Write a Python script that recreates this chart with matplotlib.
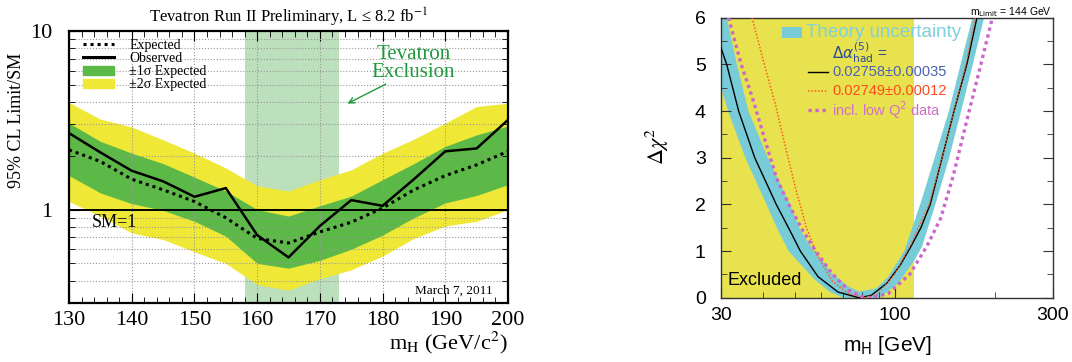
import matplotlib
matplotlib.use("Agg")
import matplotlib.pyplot as plt
from matplotlib.lines import Line2D
from matplotlib.patches import Patch, Rectangle
from matplotlib.ticker import FixedLocator, NullFormatter, MultipleLocator

# ---- left panel: Tevatron limit ----
mass = [130, 135, 140, 145, 150, 155, 160, 165, 170, 175, 180, 185, 190, 195, 200]
observed = [2.68, 2.09, 1.65, 1.44, 1.18, 1.32, 0.72, 0.54, 0.81, 1.13, 1.05, 1.48, 2.12, 2.20, 3.18]
expected = [2.16, 1.86, 1.48, 1.29, 1.11, 0.90, 0.69, 0.65, 0.75, 0.85, 1.02, 1.29, 1.55, 1.78, 2.12]
sig1_hi = [3.05, 2.41, 2.07, 1.81, 1.52, 1.27, 1.00, 0.92, 1.05, 1.19, 1.47, 1.81, 2.26, 2.62, 2.94]
sig1_lo = [1.55, 1.24, 1.08, 0.99, 0.86, 0.71, 0.50, 0.47, 0.52, 0.60, 0.72, 0.90, 1.09, 1.20, 1.38]
sig2_hi = [3.98, 3.21, 2.90, 2.46, 2.07, 1.71, 1.36, 1.27, 1.47, 1.67, 2.07, 2.48, 3.05, 3.78, 3.94]
sig2_lo = [1.11, 0.92, 0.74, 0.68, 0.58, 0.50, 0.38, 0.354, 0.41, 0.46, 0.55, 0.69, 0.81, 0.86, 1.00]
excl_range = (158, 173)

# ---- right panel: blue band ----
band_outer_m = [30, 31.5, 35.5, 41.1, 44.5, 47.9, 57.6, 64, 70, 90, 102.5, 115, 121, 132.7, 146, 158.6, 172, 186, 191]
band_outer_d = [4.5, 4.0, 3.0, 2.0, 1.45, 1.0, 0.38, 0.12, 0.0, 0.0, 0.31, 0.81, 1.1, 2.0, 3.0, 4.0, 5.0, 6.0, 6.5]
band_inner_m = [30, 31.2, 33.5, 36.3, 41.5, 48.4, 52, 57.1, 61.6, 64, 72.6, 78, 88, 95.7, 106.9, 119.4, 132, 145.7, 158, 171.5, 174]
band_inner_d = [6.5, 6.0, 5.0, 4.0, 3.0, 2.0, 1.45, 1.0, 0.74, 0.55, 0.24, 0.13, 0.2, 0.45, 1.0, 2.0, 3.0, 4.0, 5.0, 6.0, 6.5]
black_m = [30, 31.2, 33.9, 37.9, 44.0, 48.3, 52.0, 58.8, 67.6, 78.0, 85.0, 94.7, 104, 112, 120, 128, 139, 151, 165, 177]
black_d = [5.35, 5.0, 4.0, 3.0, 2.0, 1.45, 1.0, 0.45, 0.12, 0.0, 0.05, 0.31, 0.7, 1.1, 1.5, 2.0, 3.0, 4.0, 5.0, 6.0]
orange_m = [37.2, 40.5, 43.9, 47.0, 50.5, 54.0, 58.0, 65.0, 72.0, 81.0, 88.0, 100, 112, 127, 139, 151, 164, 175]
orange_d = [6.0, 5.0, 4.1, 3.2, 2.3, 1.55, 0.95, 0.35, 0.1, 0.0, 0.05, 0.5, 1.15, 2.0, 3.0, 4.0, 5.0, 6.0]
magenta_m = [31.6, 34.5, 37.5, 41, 44.1, 48, 52.8, 57.6, 64.7, 72.6, 79.8, 85, 95.7, 111, 125, 137.6, 150, 165, 180, 197]
magenta_d = [6.0, 5.0, 4.23, 3.3, 2.56, 2.0, 1.45, 1.02, 0.52, 0.16, 0.02, 0.0, 0.09, 0.5, 1.1, 1.7, 2.6, 3.8, 4.87, 6.0]
lep_limit = 114.4

SERIF = "Liberation Serif"
SANS = "Liberation Sans"
GREEN = "#5cb947"
YELLOW = "#f0e836"

fig = plt.figure(figsize=(10.72, 3.62), dpi=100)

# ================= left =================
ax = fig.add_axes([0.0644, 0.163, 0.4095, 0.7514])
ax.axvspan(*excl_range, color="#bcdfbc", zorder=0, lw=0)
ax.fill_between(mass, sig2_lo, sig2_hi, color=YELLOW, lw=0, zorder=1)
ax.fill_between(mass, sig1_lo, sig1_hi, color=GREEN, lw=0, zorder=1.1)
ax.plot(mass, expected, color="black", lw=2.2, ls=(0, (1, 1.3)), zorder=3)
ax.plot(mass, observed, color="black", lw=1.8, zorder=3)
ax.axhline(1, color="black", lw=1.4, zorder=3)

ax.set_yscale("log")
ax.set_xlim(130, 200)
ax.set_ylim(0.3, 10)
ax.xaxis.set_major_locator(MultipleLocator(10))
ax.xaxis.set_minor_locator(MultipleLocator(2))
ax.yaxis.set_major_locator(FixedLocator([1, 10]))
ax.yaxis.set_minor_locator(FixedLocator([0.3, 0.4, 0.5, 0.6, 0.7, 0.8, 0.9, 2, 3, 4, 5, 6, 7, 8, 9]))
ax.yaxis.set_minor_formatter(NullFormatter())
ax.set_yticklabels(["1", "10"])
ax.grid(True, which="major", axis="x", ls=":", color="#999999", lw=0.8)
ax.grid(True, which="minor", axis="y", ls=":", color="#999999", lw=0.8)
ax.tick_params(which="both", direction="in", top=True, right=True, labelsize=16)
ax.tick_params(which="major", length=7)
ax.tick_params(which="minor", length=4)
ax.tick_params(axis="y", pad=12)
ax.tick_params(axis="x", pad=6)
for lab in ax.get_xticklabels() + ax.get_yticklabels():
    lab.set_fontfamily(SERIF)
for s in ax.spines.values():
    s.set_linewidth(1.6)

ax.set_title("Tevatron Run II Preliminary, L ≤ 8.2 fb$^{-1}$", fontsize=12,
             family=SERIF, math_fontfamily="stix", pad=6)
ax.set_xlabel(r"m$_{\rm H}$ (GeV/c$^{2}$)", fontsize=16, family=SERIF,
              math_fontfamily="stix", loc="right")
ax.xaxis.set_label_coords(1.0, -0.1)
ax.set_ylabel("95% CL Limit/SM", fontsize=13, family=SERIF)
ax.yaxis.set_label_coords(-0.1, 0.67)

handles = [Line2D([], [], color="black", lw=2.2, ls=(0, (1, 1.3))),
           Line2D([], [], color="black", lw=2.2),
           Patch(color=GREEN), Patch(color=YELLOW)]
labels = ["Expected", "Observed", "±1σ Expected", "±2σ Expected"]
ax.legend(handles, labels, loc="upper left", bbox_to_anchor=(0.02, 0.99), frameon=False,
          prop={"family": SERIF, "size": 10}, handlelength=2.2, handletextpad=1.1,
          labelspacing=0.0, borderaxespad=0)

ax.text(184.9, 6.6, "Tevatron\nExclusion", color="#1e9a3c", fontsize=15, family=SERIF,
        ha="center", va="center", linespacing=0.9)
ax.annotate("", xy=(174.0, 3.86), xytext=(180.9, 5.12),
            arrowprops=dict(arrowstyle="->", color="#1e9a3c", lw=1.0))
ax.text(133.7, 0.846, "SM=1", fontsize=13, family=SERIF, va="center")
ax.text(197.5, 0.352, "March 7, 2011", fontsize=9.5, family=SERIF, ha="right", va="center")

# ================= right =================
bx = fig.add_axes([0.6726, 0.1776, 0.3097, 0.7735])
bx.axvspan(30, lep_limit, color="#e8e24e", zorder=0, lw=0)
bx.fill(band_outer_m + band_inner_m[::-1], band_outer_d + band_inner_d[::-1],
        color="#78ccd7", lw=0, zorder=1)
bx.plot(black_m, black_d, color="black", lw=1.0, zorder=3)
bx.plot(orange_m, orange_d, color="#ff5a1e", lw=1.1, ls=(0, (1, 1.2)), zorder=3)
bx.plot(magenta_m, magenta_d, color="#cc66cc", lw=2.4, ls=(0, (1, 1.1)), zorder=3)

bx.set_xscale("log")
bx.set_xlim(30, 300)
bx.set_ylim(0, 6)
bx.xaxis.set_major_locator(FixedLocator([30, 100, 300]))
bx.xaxis.set_minor_locator(FixedLocator([40, 50, 60, 70, 80, 90, 200]))
bx.xaxis.set_minor_formatter(NullFormatter())
bx.set_xticklabels(["30", "100", "300"])
bx.yaxis.set_major_locator(MultipleLocator(1))
bx.yaxis.set_minor_locator(MultipleLocator(0.5))
bx.tick_params(which="both", direction="in", right=True, labelsize=14, colors="#333333",
               labelcolor="black")
bx.tick_params(which="major", length=7)
bx.tick_params(which="minor", length=4)
bx.tick_params(axis="y", pad=11)
bx.tick_params(axis="x", pad=7)
for lab in bx.get_xticklabels() + bx.get_yticklabels():
    lab.set_fontfamily(SANS)
for s in bx.spines.values():
    s.set_linewidth(1.0)
    s.set_color("#333333")

bx.set_xlabel(r"m$_{\rm H}$ [GeV]", fontsize=15, family=SANS, math_fontfamily="dejavusans")
bx.xaxis.set_label_coords(0.5, -0.13)
bx.set_ylabel(r"$\Delta\chi^2$", fontsize=16, math_fontfamily="stix")
bx.yaxis.set_label_coords(-0.15, 0.54)

bx.text(0.021, 0.03, "Excluded", transform=bx.transAxes, fontsize=13, family=SANS,
        va="bottom", ha="left")
bx.add_patch(Rectangle((0.184, 0.9275), 0.06, 0.039, transform=bx.transAxes,
                       color="#78ccd7", lw=0, zorder=4))
bx.text(0.256, 0.947, "Theory uncertainty", transform=bx.transAxes, fontsize=13.5,
        family=SANS, color="#7dd0dc", va="center", zorder=4)
bx.text(0.334, 0.875, r"$\Delta\alpha^{(5)}_{\rm had}$ =", transform=bx.transAxes,
        fontsize=11, family=SANS, math_fontfamily="dejavusans", color="#2c4a9c", va="center")
bx.plot([0.262, 0.322], [0.806, 0.806], transform=bx.transAxes, color="black", lw=1.0)
bx.text(0.334, 0.806, "0.02758±0.00035", transform=bx.transAxes, fontsize=10.5,
        family=SANS, color="#4a62b0", va="center")
bx.plot([0.262, 0.322], [0.738, 0.738], transform=bx.transAxes, color="#ff5a1e",
        lw=1.1, ls=(0, (1, 1.2)))
bx.text(0.334, 0.738, "0.02749±0.00012", transform=bx.transAxes, fontsize=10.5,
        family=SANS, color="#ff4a1e", va="center")
bx.plot([0.262, 0.322], [0.67, 0.67], transform=bx.transAxes, color="#cc66cc",
        lw=2.4, ls=(0, (1, 1.1)))
bx.text(0.334, 0.67, r"incl. low Q$^2$ data", transform=bx.transAxes, fontsize=10.5,
        family=SANS, math_fontfamily="dejavusans", color="#d070c8", va="center")

fig.text(0.981, 0.967, r"m$_{\rm Limit}$ = 144 GeV", fontsize=7.5, family=SANS,
         math_fontfamily="dejavusans", ha="right", va="center")

fig.savefig("out.png", dpi=100)
